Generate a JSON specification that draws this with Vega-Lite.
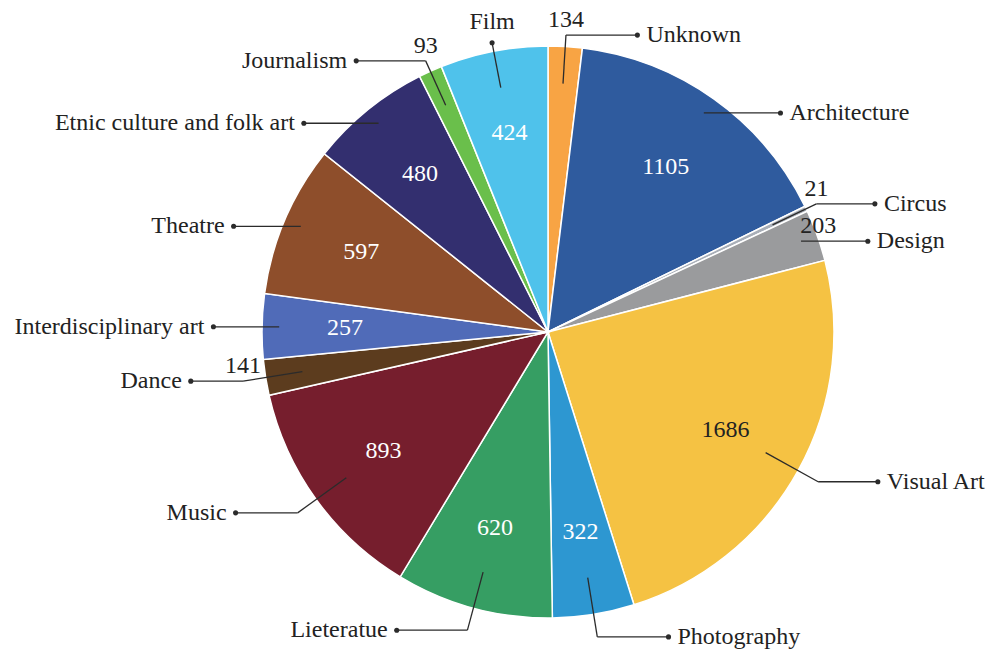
{
  "$schema": "https://vega.github.io/schema/vega-lite/v6.json",
  "width": 990,
  "height": 650,
  "autosize": {"type": "none"},
  "padding": 0,
  "background": "white",
  "config": {"view": {"stroke": null}},
  "data": {
    "values": [
      {"i": 1, "category": "Unknown", "value": 134},
      {"i": 2, "category": "Architecture", "value": 1105},
      {"i": 3, "category": "Circus", "value": 21},
      {"i": 4, "category": "Design", "value": 203},
      {"i": 5, "category": "Visual Art", "value": 1686},
      {"i": 6, "category": "Photography", "value": 322},
      {"i": 7, "category": "Lieteratue", "value": 620},
      {"i": 8, "category": "Music", "value": 893},
      {"i": 9, "category": "Dance", "value": 141},
      {"i": 10, "category": "Interdisciplinary art", "value": 257},
      {"i": 11, "category": "Theatre", "value": 597},
      {"i": 12, "category": "Etnic culture and folk art", "value": 480},
      {"i": 13, "category": "Journalism", "value": 93},
      {"i": 14, "category": "Film", "value": 424}
    ]
  },
  "transform": [
    {"window": [{"op": "sum", "field": "value", "as": "cum"}], "sort": [{"field": "i"}], "frame": [null, 0]},
    {"joinaggregate": [{"op": "sum", "field": "value", "as": "total"}]},
    {"calculate": "2*PI*(datum.cum - datum.value)/datum.total", "as": "a0"},
    {"calculate": "2*PI*datum.cum/datum.total", "as": "a1"},
    {"calculate": "(datum.a0 + datum.a1)/2", "as": "am"},
    {"calculate": "sin(datum.am)", "as": "sx"},
    {"calculate": "cos(datum.am)", "as": "cy"},
    {"calculate": "datum.sx >= 0 ? 1 : -1", "as": "sgn"},
    {"calculate": "datum.cy > 0.95 && datum.sx < 0 ? 'top' : ((datum.cy < 0 || datum.cy > 0.85 || datum.value < 100) ? 'elbow' : 'horiz')", "as": "mode"},
    {"calculate": "datum.mode == 'top' ? 'top' : (datum.sx >= 0 ? 'right' : 'left')", "as": "side"},
    {"calculate": "datum.mode == 'horiz' ? 0.94 : 0.87", "as": "r1"},
    {"calculate": "datum.r1*datum.sx", "as": "px1"},
    {"calculate": "datum.r1*datum.cy", "as": "py1"},
    {"calculate": "datum.mode == 'top' ? 1.03 : (datum.cy < 0 ? 1.08 : 1.04)", "as": "r2"},
    {"calculate": "datum.mode == 'horiz' ? datum.px1 : datum.r2*datum.sx", "as": "px2"},
    {"calculate": "datum.mode == 'horiz' ? datum.py1 : datum.r2*datum.cy", "as": "py2"},
    {"calculate": "datum.mode == 'top' ? datum.px2 : (datum.mode == 'horiz' ? datum.sgn*(sqrt(1 - datum.py1*datum.py1) + 0.17) : datum.px2 + datum.sgn*(0.17 + 0.08*abs(datum.cy)))", "as": "px3"},
    {"calculate": "datum.py2", "as": "py3"},
    {"calculate": "datum.mode == 'horiz' ? datum.px1 + 0.06 : datum.px2", "as": "ox"},
    {"calculate": "datum.py2", "as": "oy"},
    {"calculate": "0.71*datum.sx", "as": "vx"},
    {"calculate": "0.71*datum.cy", "as": "vy"}
  ],
  "layer": [
    {
      "mark": {"type": "arc", "outerRadius": 286, "stroke": "white", "strokeWidth": 1.5},
      "encoding": {
        "x": {"datum": 0, "type": "quantitative", "scale": {"domain": [-1.9161, 1.5455], "nice": false, "zero": false}, "axis": null},
        "y": {"datum": 0, "type": "quantitative", "scale": {"domain": [-1.1119, 1.1608], "nice": false, "zero": false}, "axis": null},
        "theta": {"field": "a0", "type": "quantitative", "scale": null},
        "theta2": {"field": "a1"},
        "color": {
          "field": "category", "type": "nominal", "legend": null,
          "scale": {
            "domain": ["Unknown", "Architecture", "Circus", "Design", "Visual Art", "Photography", "Lieteratue", "Music", "Dance", "Interdisciplinary art", "Theatre", "Etnic culture and folk art", "Journalism", "Film"],
            "range": ["#F8A444", "#2F5B9E", "#A9AFB8", "#9A9B9D", "#F5C243", "#2D97D1", "#369E63", "#761E2D", "#5C3C1E", "#506BB8", "#8E4E2B", "#332F6F", "#6ABF4B", "#4FC2EB"]
          }
        }
      }
    },
    {
      "mark": {"type": "rule", "color": "#2b2b2b", "strokeWidth": 1.3},
      "encoding": {
        "x": {"field": "px1", "type": "quantitative"},
        "y": {"field": "py1", "type": "quantitative"},
        "x2": {"field": "px2"},
        "y2": {"field": "py2"}
      }
    },
    {
      "mark": {"type": "rule", "color": "#2b2b2b", "strokeWidth": 1.3},
      "encoding": {
        "x": {"field": "px2", "type": "quantitative"},
        "y": {"field": "py2", "type": "quantitative"},
        "x2": {"field": "px3"},
        "y2": {"field": "py3"}
      }
    },
    {
      "mark": {"type": "circle", "color": "#2b2b2b", "opacity": 1, "size": 26},
      "encoding": {
        "x": {"field": "px3", "type": "quantitative"},
        "y": {"field": "py3", "type": "quantitative"}
      }
    },
    {
      "transform": [{"filter": "datum.side == 'right'"}],
      "mark": {"type": "text", "align": "left", "baseline": "middle", "dx": 9, "font": "Liberation Serif", "fontSize": 24, "color": "#222222"},
      "encoding": {
        "x": {"field": "px3", "type": "quantitative"},
        "y": {"field": "py3", "type": "quantitative"},
        "text": {"field": "category"}
      }
    },
    {
      "transform": [{"filter": "datum.side == 'left'"}],
      "mark": {"type": "text", "align": "right", "baseline": "middle", "dx": -9, "font": "Liberation Serif", "fontSize": 24, "color": "#222222"},
      "encoding": {
        "x": {"field": "px3", "type": "quantitative"},
        "y": {"field": "py3", "type": "quantitative"},
        "text": {"field": "category"}
      }
    },
    {
      "transform": [{"filter": "datum.side == 'top'"}],
      "mark": {"type": "text", "align": "center", "baseline": "middle", "dy": -21, "font": "Liberation Serif", "fontSize": 24, "color": "#222222"},
      "encoding": {
        "x": {"field": "px3", "type": "quantitative"},
        "y": {"field": "py3", "type": "quantitative"},
        "text": {"field": "category"}
      }
    },
    {
      "transform": [{"filter": "datum.value >= 230"}],
      "mark": {"type": "text", "align": "center", "baseline": "middle", "font": "Liberation Serif", "fontSize": 24},
      "encoding": {
        "x": {"field": "vx", "type": "quantitative"},
        "y": {"field": "vy", "type": "quantitative"},
        "text": {"field": "value", "type": "quantitative"},
        "color": {"condition": {"test": "datum.category == 'Visual Art'", "value": "#222222"}, "value": "white"}
      }
    },
    {
      "transform": [{"filter": "datum.value < 230"}],
      "mark": {"type": "text", "align": "center", "baseline": "middle", "dy": -15, "font": "Liberation Serif", "fontSize": 24, "color": "#222222"},
      "encoding": {
        "x": {"field": "ox", "type": "quantitative"},
        "y": {"field": "oy", "type": "quantitative"},
        "text": {"field": "value", "type": "quantitative"}
      }
    }
  ]
}
